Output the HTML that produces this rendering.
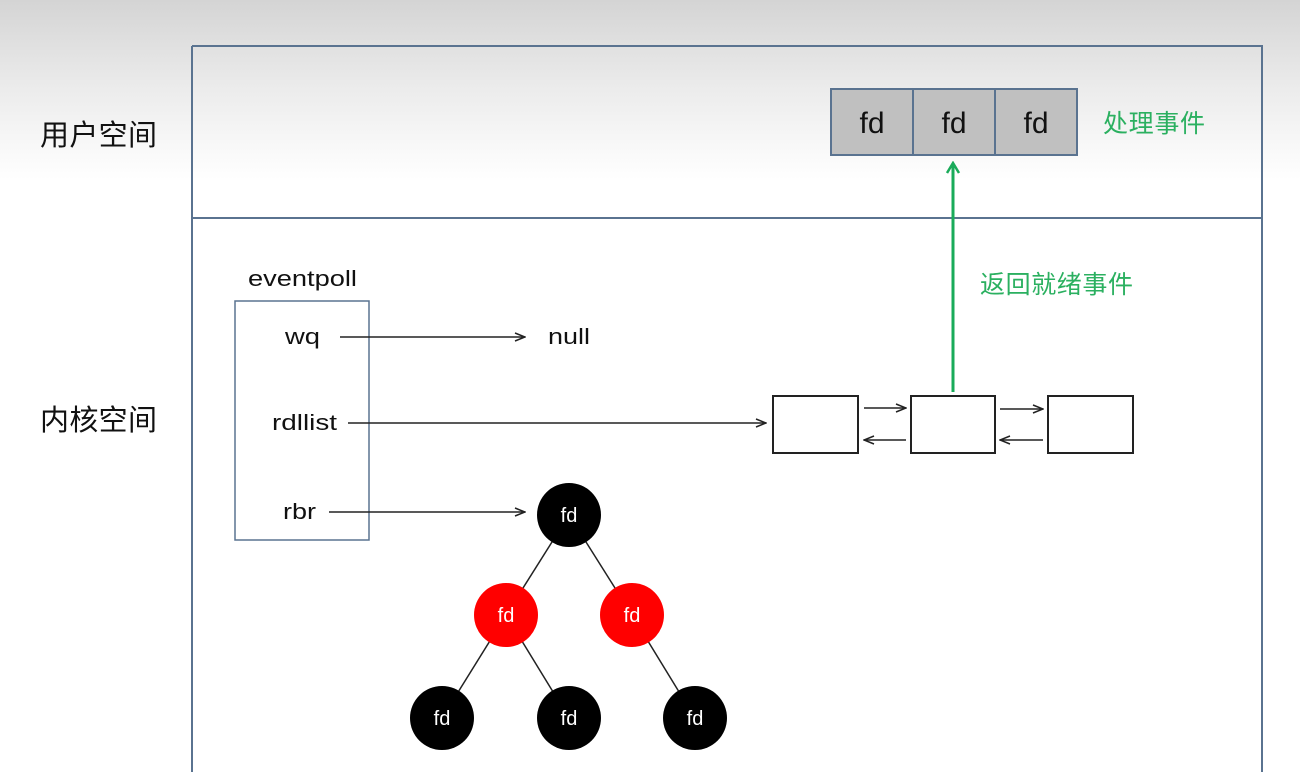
<!DOCTYPE html>
<html><head><meta charset="utf-8"><style>
body{margin:0;width:1300px;height:772px;overflow:hidden;background:linear-gradient(#d4d4d4 0px,#ececec 90px,#fff 180px);}
svg{position:absolute;left:0;top:0}
</style></head><body>
<svg width="1300" height="772" viewBox="0 0 1300 772" font-family="Liberation Sans, Noto Sans CJK SC, sans-serif">
<defs>
<marker id="a" markerWidth="12" markerHeight="10" refX="11" refY="5" orient="auto" markerUnits="userSpaceOnUse"><path d="M1,1 L11,5 L1,9" fill="none" stroke="#222" stroke-width="1.5"/></marker>
<marker id="g" markerWidth="14" markerHeight="16" refX="12" refY="8" orient="auto" markerUnits="userSpaceOnUse"><path d="M2,2 L12,8 L2,14" fill="none" stroke="#1aab5a" stroke-width="2.5"/></marker>
</defs>
<path d="M192,46 H1262 V772 M192,46 V772" fill="none" stroke="#5a7390" stroke-width="2"/>
<line x1="192" y1="218" x2="1262" y2="218" stroke="#5a7390" stroke-width="2"/>
<text x="40" y="145" font-size="29" fill="#111" textLength="117">用户空间</text>
<text x="40" y="430" font-size="29" fill="#111" textLength="117">内核空间</text>
<g stroke="#5a7390" stroke-width="2" fill="#c0c0c0">
<rect x="831" y="89" width="82" height="66"/><rect x="913" y="89" width="82" height="66"/><rect x="995" y="89" width="82" height="66"/>
</g>
<g font-size="30" fill="#111" text-anchor="middle"><text x="872" y="133">fd</text><text x="954" y="133">fd</text><text x="1036" y="133">fd</text></g>
<text x="1103" y="132" font-size="25" fill="#2bb060" textLength="102">处理事件</text>
<line x1="953" y1="392" x2="953" y2="163" stroke="#1aab5a" stroke-width="3" marker-end="url(#g)"/>
<text x="980" y="293" font-size="25" fill="#2bb060" textLength="153">返回就绪事件</text>
<g font-size="22" fill="#111" lengthAdjust="spacingAndGlyphs">
<text x="248" y="286" textLength="109" lengthAdjust="spacingAndGlyphs">eventpoll</text>
<text x="285" y="344" textLength="35" lengthAdjust="spacingAndGlyphs">wq</text><text x="548" y="344" textLength="42" lengthAdjust="spacingAndGlyphs">null</text><text x="272" y="430" textLength="65" lengthAdjust="spacingAndGlyphs">rdllist</text><text x="283" y="519" textLength="33" lengthAdjust="spacingAndGlyphs">rbr</text></g>
<rect x="235" y="301" width="134" height="239" fill="none" stroke="#5a7390" stroke-width="1.5"/>
<g stroke="#222" stroke-width="1.5" marker-end="url(#a)">
<line x1="340" y1="337" x2="525" y2="337"/><line x1="348" y1="423" x2="766" y2="423"/><line x1="329" y1="512" x2="525" y2="512"/>
<line x1="864" y1="408" x2="906" y2="408"/><line x1="906" y1="440" x2="864" y2="440"/>
<line x1="1000" y1="409" x2="1043" y2="409"/><line x1="1043" y1="440" x2="1000" y2="440"/>
</g>
<g fill="#fff" stroke="#222" stroke-width="2">
<rect x="773" y="396" width="85" height="57"/><rect x="911" y="396" width="84" height="57"/><rect x="1048" y="396" width="85" height="57"/>
</g>
<g stroke="#222" stroke-width="1.5">
<line x1="569" y1="515" x2="506" y2="615"/><line x1="569" y1="515" x2="632" y2="615"/>
<line x1="506" y1="615" x2="442" y2="718"/><line x1="506" y1="615" x2="569" y2="718"/><line x1="632" y1="615" x2="695" y2="718"/>
</g>
<g><circle cx="569" cy="515" r="32" fill="#000"/><circle cx="506" cy="615" r="32" fill="#f00"/><circle cx="632" cy="615" r="32" fill="#f00"/>
<circle cx="442" cy="718" r="32" fill="#000"/><circle cx="569" cy="718" r="32" fill="#000"/><circle cx="695" cy="718" r="32" fill="#000"/></g>
<g font-size="20" fill="#fff" text-anchor="middle"><text x="569" y="522">fd</text><text x="506" y="622">fd</text><text x="632" y="622">fd</text><text x="442" y="725">fd</text><text x="569" y="725">fd</text><text x="695" y="725">fd</text></g>
</svg>
</body></html>
